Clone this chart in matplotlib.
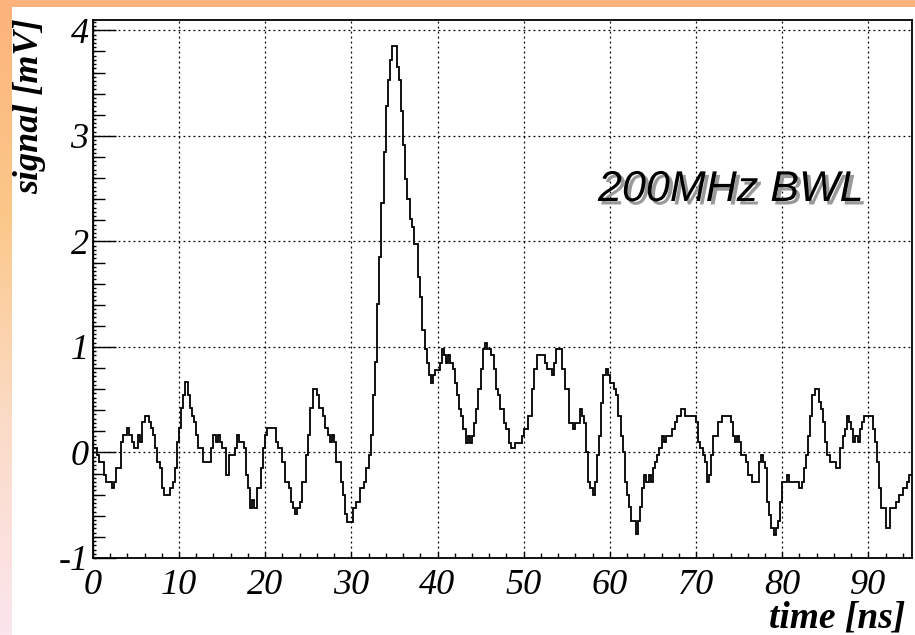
import numpy as np
import matplotlib.pyplot as plt
import matplotlib.patheffects as pe
from matplotlib.colors import LinearSegmentedColormap
from matplotlib.patches import Rectangle
from matplotlib.ticker import MultipleLocator

W, H, DPI = 915, 635, 100

# scope trace after the 200 MHz bandwidth limit, one value per 0.25 ns bin (mV)
BIN_NS = 0.25
signal_mv = [
    0.04, 0.04, -0.02, -0.09, -0.09, -0.21, -0.28, -0.28, -0.28, -0.34,
    -0.28, -0.15, -0.15, 0.10, 0.17, 0.17, 0.23, 0.17, 0.10, 0.04,
    0.04, 0.17, 0.10, 0.29, 0.35, 0.35, 0.29, 0.23, 0.17, 0.04,
    -0.09, -0.15, -0.34, -0.40, -0.40, -0.40, -0.34, -0.28, -0.15, 0.10,
    0.23, 0.42, 0.54, 0.67, 0.54, 0.42, 0.35, 0.29, 0.17, 0.04,
    0.04, -0.09, -0.09, -0.09, -0.09, 0.04, 0.17, 0.10, 0.17, 0.10,
    0.04, 0.04, -0.21, -0.02, -0.02, -0.02, 0.04, 0.17, 0.10, 0.10,
    0.04, -0.21, -0.34, -0.53, -0.45, -0.53, -0.34, -0.34, -0.15, 0.04,
    0.17, 0.23, 0.23, 0.23, 0.23, 0.10, 0.04, 0.04, -0.09, -0.28,
    -0.28, -0.34, -0.47, -0.53, -0.58, -0.53, -0.47, -0.28, -0.28, -0.02,
    0.17, 0.42, 0.60, 0.60, 0.54, 0.42, 0.42, 0.35, 0.23, 0.17,
    0.10, 0.17, 0.10, -0.09, -0.09, -0.28, -0.40, -0.58, -0.66, -0.66,
    -0.66, -0.53, -0.47, -0.47, -0.34, -0.34, -0.28, -0.15, -0.02, 0.17,
    0.54, 0.86, 1.41, 1.85, 2.36, 2.85, 3.28, 3.53, 3.72, 3.85,
    3.85, 3.65, 3.53, 3.24, 2.91, 2.59, 2.40, 2.21, 2.14, 1.98,
    1.98, 1.66, 1.47, 1.16, 0.98, 0.85, 0.73, 0.66, 0.73, 0.78,
    0.78, 0.85, 0.98, 0.92, 0.85, 0.92, 0.85, 0.79, 0.66, 0.54,
    0.41, 0.35, 0.22, 0.09, 0.16, 0.09, 0.16, 0.28, 0.41, 0.60,
    0.79, 0.98, 1.04, 0.98, 0.98, 0.92, 0.79, 0.60, 0.54, 0.41,
    0.41, 0.28, 0.22, 0.09, 0.04, 0.04, 0.09, 0.09, 0.09, 0.16,
    0.22, 0.22, 0.35, 0.35, 0.60, 0.79, 0.92, 0.92, 0.92, 0.92,
    0.85, 0.79, 0.79, 0.73, 0.85, 0.98, 0.98, 0.98, 0.79, 0.60,
    0.60, 0.28, 0.28, 0.22, 0.28, 0.28, 0.41, 0.35, 0.28, 0.00,
    -0.28, -0.34, -0.40, -0.28, -0.02, 0.16, 0.47, 0.73, 0.79, 0.73,
    0.66, 0.66, 0.60, 0.54, 0.35, 0.16, 0.00, -0.28, -0.40, -0.52,
    -0.65, -0.65, -0.77, -0.65, -0.52, -0.34, -0.21, -0.28, -0.21, -0.28,
    -0.15, -0.09, -0.02, 0.04, 0.16, 0.10, 0.16, 0.16, 0.16, 0.22,
    0.29, 0.35, 0.35, 0.41, 0.41, 0.35, 0.35, 0.35, 0.35, 0.35,
    0.29, 0.10, 0.04, -0.02, -0.09, -0.28, -0.21, -0.02, 0.16, 0.16,
    0.29, 0.29, 0.35, 0.35, 0.35, 0.35, 0.29, 0.16, 0.10, 0.16,
    0.10, -0.02, -0.02, -0.09, -0.21, -0.21, -0.28, -0.28, -0.28, -0.09,
    -0.02, -0.09, -0.15, -0.47, -0.59, -0.72, -0.78, -0.72, -0.65, -0.47,
    -0.28, -0.28, -0.21, -0.28, -0.28, -0.28, -0.28, -0.28, -0.34, -0.28,
    -0.15, -0.02, 0.16, 0.35, 0.54, 0.60, 0.60, 0.48, 0.41, 0.29,
    0.10, -0.02, -0.09, -0.09, -0.09, -0.15, -0.15, 0.04, 0.16, 0.22,
    0.35, 0.29, 0.22, 0.10, 0.16, 0.10, 0.22, 0.29, 0.35, 0.35,
    0.35, 0.35, 0.22, 0.10, -0.09, -0.34, -0.53, -0.53, -0.72, -0.72,
    -0.53, -0.53, -0.53, -0.47, -0.40, -0.40, -0.34, -0.34, -0.28, -0.21,
]
t_edges = np.arange(len(signal_mv) + 1) * BIN_NS

x_range = (0, 95)
y_range = (-1, 4.095)
label_x = "time [ns]"
label_y = "signal [mV]"
note = "200MHz BWL"

plt.rcParams["axes.unicode_minus"] = False
serif = "Liberation Serif"
sans = "Liberation Sans"

fig = plt.figure(figsize=(W / DPI, H / DPI), dpi=DPI)
fig.patch.set_facecolor("white")

# canvas decoration: orange band along the top, fading strip on the left
fig.add_artist(Rectangle((0, 1 - 7 / H), 1, 7 / H, transform=fig.transFigure,
                         facecolor="#fdb47c", edgecolor="none"))
side = fig.add_axes([0, 0, 12 / W, 1 - 7 / H])
side.set_axis_off()
fade = LinearSegmentedColormap.from_list(
    "fade", ["#fdb47c", "#fbc88a", "#fbdcc8", "#fce6ee"])
side.imshow(np.linspace(0, 1, 256).reshape(-1, 1), cmap=fade,
            aspect="auto", extent=(0, 1, 0, 1))

x0, x1, y0, y1 = 92.8, 911.5, 20.3, 558.0
ax = fig.add_axes([x0 / W, 1 - y1 / H, (x1 - x0) / W, (y1 - y0) / H])
ax.stairs(signal_mv, t_edges, baseline=None, color="black", linewidth=1.3)
ax.set_xlim(*x_range)
ax.set_ylim(*y_range)

for s in ax.spines.values():
    s.set_linewidth(1.3)

ax.xaxis.set_major_locator(MultipleLocator(10))
ax.xaxis.set_minor_locator(MultipleLocator(2))
ax.yaxis.set_major_locator(MultipleLocator(1))
ax.yaxis.set_minor_locator(MultipleLocator(0.2))
ax.grid(True, which="major", color="black", linestyle=(0, (1.5, 2.5)),
        linewidth=0.9)
ax.tick_params(axis="x", which="major", direction="in", length=4.5, width=1,
               pad=8)
ax.tick_params(axis="x", which="minor", direction="in", length=3.5, width=1)
ax.tick_params(axis="y", which="major", direction="in", length=16.5, width=1,
               pad=3)
ax.tick_params(axis="y", which="minor", direction="in", length=8.5, width=1)

# finest y ticks every 0.04 mV
fine = ax.secondary_yaxis("left")
fine.yaxis.set_major_locator(MultipleLocator(0.04))
fine.tick_params(direction="in", length=2.2, width=1, labelleft=False)

for lab in ax.get_xticklabels() + ax.get_yticklabels():
    lab.set_fontfamily(serif)
    lab.set_fontstyle("italic")
    lab.set_fontsize(26)

fig.text(30 / W, 1 - 18 / H, label_y, rotation=90, ha="center", va="top",
         family=serif, style="italic", weight="bold", fontsize=26)
fig.text(905 / W, 1 - 628 / H, label_x, ha="right", va="baseline",
         family=serif, style="italic", weight="bold", fontsize=27)
fig.text(598 / W, 1 - 201 / H, note, ha="left", va="baseline",
         family=sans, style="italic", fontsize=31,
         path_effects=[pe.SimplePatchShadow(offset=(2.5, -2.5),
                                            shadow_rgbFace="0.6", alpha=1.0),
                       pe.Normal()])

fig.savefig("out.png", dpi=DPI)
